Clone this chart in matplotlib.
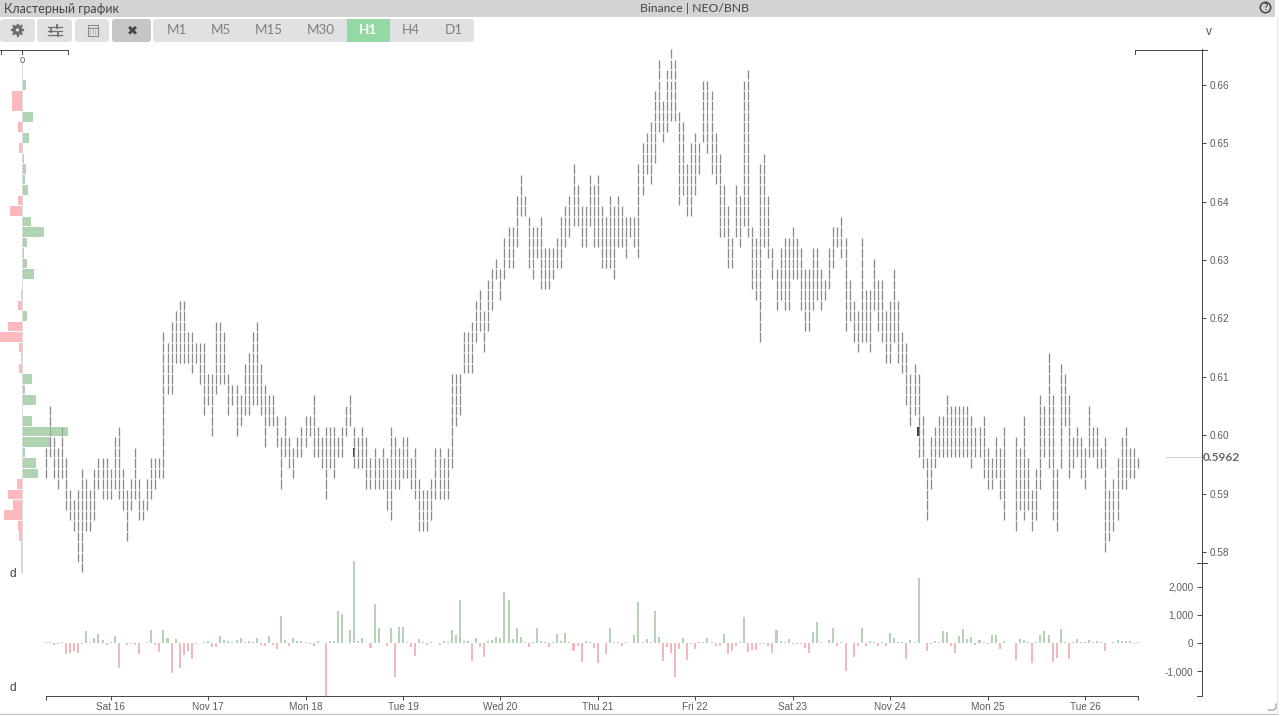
# -*- coding: utf-8 -*-
import numpy as np
import matplotlib
matplotlib.use("Agg")
import matplotlib.pyplot as plt
from matplotlib.patches import Rectangle, FancyBboxPatch, Circle

nan = float("nan")

# --------- data (price levels counted from the lowest cluster row) ---------
price_base = 0.5764
price_step = 0.001797
last_price = 0.5962

bar_low = [
    9, 11, 9, 8, 9, 6, 5, 4, 1, 0,
    4, 4, 5, 8, 7, 7, 7, 8, 7, 6,
    3, 6, 7, 5, 5, 6, 7, 8, 9, 9,
    17, 17, 20, 20, 20, 20, 19, 20, 18, 15,
    16, 13, 17, 18, 18, 15, 16, 13, 14, 15,
    15, 16, 16, 15, 12, 14, 14, 12, 8, 11,
    10, 9, 11, 11, 12, 13, 11, 11, 10, 7,
    10, 9, 11, 11, 13, 14, 10, 10, 10, 8,
    8, 8, 8, 8, 6, 5, 8, 8, 9, 9,
    8, 7, 4, 4, 4, 5, 7, 7, 7, 7,
    10, 14, 15, 19, 19, 19, 22, 23, 21, 23,
    25, 28, 26, 28, 29, 29, 31, 34, 34, 29,
    28, 30, 27, 27, 27, 28, 29, 29, 31, 32,
    33, 33, 31, 31, 33, 31, 31, 29, 29, 29,
    28, 31, 31, 30, 32, 31, 30, 36, 38, 37,
    39, 42, 41, 42, 43, 43, 35, 36, 34, 34,
    36, 38, 41, 40, 38, 37, 32, 32, 29, 29,
    32, 31, 33, 32, 27, 26, 22, 31, 30, 28,
    25, 26, 25, 25, 28, 28, 25, 23, 23, 25,
    26, 25, 26, 27, 29, 31, 30, 23, 24, 22,
    21, 22, 22, 21, 25, 23, 22, 20, 20, 22,
    20, 19, 16, 14, 15, 11, 10, 5, 8, 10,
    11, 11, 11, 11, 11, 11, 11, 11, 10, 11,
    11, 9, 8, 8, 9, 7, 5, nan, nan, 4,
    6, 5, 6, 4, 5, 8, 11, 10, 5, 4,
    10, 14, 9, 10, 11, 9, 8, 11, 11, 10,
    10, 2, 3, 4, 5, 8, 8, 9, 9, 10,
]
bar_high = [
    12, 16, 13, 12, 14, 11, 8, 7, 8, 10,
    9, 8, 10, 11, 11, 11, 10, 13, 14, 10,
    8, 9, 12, 9, 7, 9, 11, 11, 11, 23,
    22, 24, 25, 26, 26, 23, 23, 22, 22, 22,
    19, 19, 24, 24, 23, 19, 18, 18, 17, 20,
    21, 23, 24, 20, 18, 17, 17, 15, 13, 15,
    13, 12, 13, 14, 15, 15, 17, 14, 13, 14,
    14, 14, 13, 14, 16, 17, 14, 13, 14, 13,
    11, 12, 11, 12, 11, 14, 13, 12, 13, 13,
    11, 12, 9, 8, 8, 9, 12, 12, 11, 12,
    19, 19, 19, 23, 23, 24, 26, 27, 25, 28,
    29, 30, 29, 32, 33, 33, 36, 38, 36, 34,
    33, 33, 34, 31, 31, 31, 32, 34, 35, 36,
    39, 37, 35, 35, 38, 37, 38, 35, 34, 36,
    35, 36, 35, 34, 34, 34, 39, 41, 42, 43,
    46, 49, 45, 48, 50, 49, 44, 43, 39, 41,
    42, 41, 47, 47, 46, 42, 40, 37, 35, 32,
    37, 36, 47, 48, 33, 32, 39, 40, 36, 31,
    29, 31, 32, 32, 33, 32, 31, 29, 29, 31,
    31, 29, 28, 31, 33, 33, 34, 32, 28, 26,
    25, 32, 27, 27, 30, 28, 28, 25, 26, 29,
    26, 23, 22, 19, 20, 19, 15, 11, 13, 14,
    15, 15, 17, 16, 16, 16, 16, 16, 15, 14,
    14, 15, 12, 11, 13, 12, 14, nan, nan, 13,
    12, 15, 11, 8, 10, 17, 16, 21, 17, 10,
    20, 19, 17, 13, 14, 13, 12, 16, 14, 14,
    12, 13, 8, 9, 11, 13, 14, 12, 12, 11,
]
# heaviest clusters, drawn dark
heavy_bars = [76, 215]
heavy_levels = [11, 13]

delta = [
    20, 40, -60, -30, 50, -390, -355, -290, -340, -20,
    430, 20, 170, 330, 120, -60, 20, 240, -880, 10,
    -60, -40, -80, -400, 10, 40, 460, -60, -310, 470,
    190, -1050, 150, -870, -420, -300, -550, -30, 10, 20,
    60, -140, -130, 240, 90, 70, 50, 100, 160, 20,
    60, 30, 170, -70, -120, 240, -60, -220, 950, 90,
    -120, 170, 70, 60, 50, -40, -100, 60, 10, -1880,
    60, 70, 1120, 1030, 10, 470, 2900, 80, 170, 10,
    -170, 1370, 540, 10, -120, 540, -1190, 570, 570, 20,
    -130, -450, 130, 30, -60, 20, 15, -60, 80, 50,
    450, 280, 1540, 70, 70, -640, 170, -130, -510, 70,
    120, 210, 170, 1810, 1530, 150, 530, 220, 30, -150,
    20, 530, 60, 40, -140, 50, 320, 70, 370, 30,
    -300, -100, -680, 70, 30, -190, -700, -10, -380, 520,
    40, 20, -100, 20, 15, 280, 1470, 20, 150, 20,
    1120, 200, -650, -150, -340, -1210, -200, 190, -600, -40,
    -220, 30, 40, 170, 40, -100, -120, 320, -380, -290,
    -100, 30, 920, -320, -260, -250, -20, -40, -100, -340,
    450, 60, 50, 130, -40, -20, -40, -190, -340, 380,
    760, 30, 10, 100, 530, -120, 20, -980, 10, -500,
    -100, 520, -120, 80, 40, -120, 30, -100, 370, 180,
    40, 30, -550, 90, 30, 2290, 10, -280, -20, 60,
    40, 440, 380, -100, -370, 240, 500, 130, 210, -70,
    120, 50, -20, 300, 300, -200, 70, nan, nan, -610,
    150, 100, 40, -700, 50, 280, 440, 290, -680, -520,
    510, 50, -550, 30, 130, 30, 20, 100, 20, 70,
    40, -290, -10, 50, 100, 70, 60, 70, -20, 20,
]

# volume profile: level 46 down to level 0
profile_levels = list(range(46, -1, -1))
profile_values = [
    4, -10, -10, 11, -4, 7, -3, 2, 4, 3,
    6, -4, -12, 9, 22, 5.5, 2, 5.5, 12, 0.3,
    -0.5, -3.5, 5, -13.5, -22, -2.5, -1, -3, 10, 3.5,
    14, 1, 10, 46, 28, 3.5, 14, 16.5, -5, -13.5,
    -8.5, -18, -3.5, -2.5, -0.5, -0.5, -0.5,
]

date_ticks = [16, 40, 64, 88, 112, 136, 160, 184, 208, 232, 256]
date_labels = ["Sat 16", "Nov 17", "Mon 18", "Tue 19", "Wed 20", "Thu 21",
               "Fri 22", "Sat 23", "Nov 24", "Mon 25", "Tue 26"]
price_ticks = [0.58, 0.59, 0.60, 0.61, 0.62, 0.63, 0.64, 0.65, 0.66]
delta_ticks = [-1000, 0, 1000, 2000]
timeframes = ["M1", "M5", "M15", "M30", "H1", "H4", "D1"]
timeframe_x = [176.5, 220.5, 269, 321, 368.5, 411, 453.5]

# --------- layout helpers (pixel positions of the widget) ---------
W, H = 1280, 716
PX = 72.0 / 100.0  # one pixel in points at dpi 100
AXIS = "#4a4a4a"
LABEL = "#5c5c5c"
UI_FONT = ["Lato", "Open Sans", "DejaVu Sans"]
CHART_FONT = ["Liberation Sans", "DejaVu Sans"]

def px_axes(fig, left, top, right, bottom, **kw):
    return fig.add_axes([left / W, 1 - bottom / H, (right - left) / W, (bottom - top) / H], **kw)

def level_price(lvl):
    return price_base + np.asarray(lvl, dtype=float) * price_step

def idx_lim():
    # bar i sits at pixel 45.7 + 4.06 * i
    return (22 - 45.7) / 4.06, (1202 - 45.7) / 4.06

def price_lim():
    return 0.58 + (552 - 563) / 5837.5, 0.58 + (552 - 49) / 5837.5

# --------- panels ---------
def draw_price(fig):
    ax = px_axes(fig, 22, 49, 1202, 563, facecolor="none")
    ax.set_xlim(*idx_lim())
    ax.set_ylim(*price_lim())
    gap = price_step * 0.05
    xs, y0, y1 = [], [], []
    for i, (lo, hi) in enumerate(zip(bar_low, bar_high)):
        if np.isnan(lo):
            continue
        for lvl in range(int(lo), int(hi)):
            xs.append(i)
            y0.append(level_price(lvl) + gap)
            y1.append(level_price(lvl + 1) - gap)
    # the lowest bars run a little past the panel edge
    ax.vlines(xs, y0, y1, color="#8a8a8a", linewidth=1.3 * PX, clip_on=False)
    for i, lvl in zip(heavy_bars, heavy_levels):
        ax.bar(i, price_step * 0.9, width=0.55, bottom=level_price(lvl) + gap, color="#3c3c3c")

    # last price marker
    ax.plot([(1166 - 45.7) / 4.06, idx_lim()[1]], [last_price, last_price], color="#cfcfcf", lw=1.0 * PX)
    ax.text(1.001, last_price, f"{last_price:.4f}", transform=ax.get_yaxis_transform(),
            ha="left", va="center", fontsize=8.6, fontweight="bold", color="#666666",
            family=UI_FONT)

    for s in ["top", "left", "bottom"]:
        ax.spines[s].set_visible(False)
    ax.spines["right"].set_color(AXIS)
    ax.spines["right"].set_linewidth(1.0 * PX)
    ax.set_xticks([])
    ax.yaxis.tick_right()
    ax.set_yticks(price_ticks, [f"{p:.2f}" for p in price_ticks])
    ax.tick_params(axis="y", length=3, width=1.0 * PX, color=AXIS, pad=2.2,
                   labelsize=7.2, labelcolor=LABEL)
    for t in ax.get_yticklabels():
        t.set_family(CHART_FONT)
    return ax

def draw_profile(fig):
    ax = px_axes(fig, 0, 49, 68, 563, facecolor="none")
    ax.set_xlim(-21.7, 46.3)
    ax.set_ylim(*price_lim())
    ax.plot([0, 0], [level_price(0), price_lim()[1] - 0.002], color="#dcdcdc", lw=1.0 * PX, clip_on=False)
    colors = ["#8fc391" if v >= 0 else "#ff9a9e" for v in profile_values]
    ax.barh(level_price(profile_levels) + price_step / 2, profile_values,
            height=price_step * 0.92, color=colors, alpha=0.7, linewidth=0, clip_on=False)
    ax.axis("off")

def draw_delta(fig):
    ax = px_axes(fig, 22, 563, 1202, 696, facecolor="none")
    ax.set_xlim(*idx_lim())
    ax.set_ylim(-1879, 2837)
    values = np.array(delta, dtype=float)
    xs = np.arange(len(values))
    colors = ["#b4d2b4" if v >= 0 else "#efb9bd" for v in np.nan_to_num(values)]
    ax.bar(xs, values, width=0.5, color=colors, linewidth=0, clip_on=False)

    for s in ["top", "right"]:
        ax.spines[s].set_visible(False)
    ax.spines["bottom"].set_bounds(0, 269)
    ax.spines["left"].set_position(("axes", 1.0))
    for s in ["bottom", "left"]:
        ax.spines[s].set_color(AXIS)
        ax.spines[s].set_linewidth(1.0 * PX)
    ax.set_xticks([0] + date_ticks + [269], [""] + date_labels + [""])
    ax.set_yticks(delta_ticks, [f"{v:,}" for v in delta_ticks])
    ax.tick_params(axis="x", length=3, width=1.0 * PX, color=AXIS, pad=1.2,
                   labelsize=7.2, labelcolor=LABEL)
    ax.tick_params(axis="y", length=3.6, width=1.0 * PX, color=AXIS, pad=2.5,
                   labelsize=7.2, labelcolor=LABEL)
    for t in ax.get_xticklabels() + ax.get_yticklabels():
        t.set_family(CHART_FONT)

# --------- window chrome ---------
def button(ax, x0, x1, color):
    ax.add_patch(FancyBboxPatch((x0 + 2, 21), x1 - x0 - 4, 19, boxstyle="round,pad=2,rounding_size=3",
                                fc=color, ec="none"))

def draw_chrome(fig):
    ax = px_axes(fig, 0, 0, W, H, facecolor="none", zorder=5)
    ax.set_xlim(0, W)
    ax.set_ylim(H, 0)
    ax.axis("off")
    icon = "#6f6f6f"

    ax.add_patch(Rectangle((0, 0), 1275, 17, fc="#d3d3d3", ec="none"))
    ax.text(4, 9, "Кластерный график", fontsize=9.0, color="#444444", va="center", family=UI_FONT)
    ax.text(695, 9, "Binance | NEO/BNB", fontsize=8.8, color="#444444", va="center", ha="center", family=UI_FONT)
    ax.add_patch(Circle((1265.5, 7.5), 5.2, fc="none", ec="#444444", lw=1.1))
    ax.text(1265.5, 7.8, "?", fontsize=6.8, fontweight="bold", color="#444444", ha="center", va="center", family=UI_FONT)

    button(ax, 0, 35, "#e0e1e2")
    button(ax, 37, 72, "#e0e1e2")
    button(ax, 75, 109, "#e0e1e2")
    button(ax, 112, 151, "#c4c5c6")
    button(ax, 153, 474, "#e0e1e2")
    ax.add_patch(Rectangle((347, 19), 43, 23, fc="#92d9a5", ec="none"))

    # gear
    ax.add_patch(Circle((17.5, 30), 3.6, fc="none", ec=icon, lw=2.0))
    ax.plot([17.5, 17.5], [24.5, 35.5], color=icon, lw=1.6, zorder=1)
    ax.plot([12, 23], [30, 30], color=icon, lw=1.6, zorder=1)
    ax.plot([13.6, 21.4], [26.1, 33.9], color=icon, lw=1.6, zorder=1)
    ax.plot([13.6, 21.4], [33.9, 26.1], color=icon, lw=1.6, zorder=1)
    ax.add_patch(Circle((17.5, 30), 1.6, fc="#e0e1e2", ec="none", zorder=3))
    # sliders
    for y, knob in [(26.5, 57), (30.5, 51), (34.5, 58)]:
        ax.plot([48, 62], [y, y], color=icon, lw=0.9)
        ax.plot([knob, knob], [y - 1.4, y + 1.4], color=icon, lw=1.3)
    # calendar
    ax.add_patch(Rectangle((87.5, 25), 10, 11, fc="none", ec="#8a8a8a", lw=0.8))
    ax.plot([87.5, 97.5], [28, 28], color="#8a8a8a", lw=0.8)
    for x in [90, 92.5, 95]:
        ax.plot([x, x], [30, 34], color="#a0a0a0", lw=0.8, ls=(0, (1, 1)))
    ax.text(132, 30.5, "\u2716", fontsize=9.5, color="#444444", ha="center", va="center", family="DejaVu Sans")
    for name, x in zip(timeframes, timeframe_x):
        on = name == "H1"
        ax.text(x, 30.5, name, fontsize=9.6, color="white" if on else "#7d7d7d", ha="center", va="center",
                family=UI_FONT, fontweight="bold" if on else "normal")

    # axis brackets and labels
    lw = 1.0 * PX
    ax.plot([0, 68], [49.5, 49.5], color=AXIS, lw=lw)
    for x in [0.5, 22, 68]:
        ax.plot([x, x], [49.5, 53.5], color=AXIS, lw=lw)
    ax.text(22, 60.5, "0", fontsize=6.8, color=LABEL, ha="center", va="center", family=CHART_FONT)
    ax.plot([1135, 1207], [49.5, 49.5], color=AXIS, lw=lw)
    ax.plot([1135, 1135], [49.5, 54], color=AXIS, lw=lw)
    ax.plot([1197, 1207], [563, 563], color=AXIS, lw=lw)
    ax.plot([1197, 1202], [696, 696], color=AXIS, lw=lw)
    ax.text(1209, 32, "v", fontsize=8.6, color="#555555", ha="center", va="center", family=CHART_FONT)
    ax.text(13, 574, "d", fontsize=8.6, color="#444444", ha="center", va="center", family=CHART_FONT)
    ax.text(13, 688, "d", fontsize=8.6, color="#444444", ha="center", va="center", family=CHART_FONT)

    # window edge and resize handle
    ax.plot([1277, 1277], [17, 714], color="#e4e4e4", lw=lw)
    ax.plot([0, 1277], [714, 714], color="#c8c8c8", lw=1.4 * PX)
    ax.plot([1268, 1274, 1276, 1276], [710, 710, 708, 704], color="#888888", lw=lw)

def main():
    fig = plt.figure(figsize=(W / 100, H / 100), dpi=100, facecolor="white")
    draw_price(fig)
    draw_delta(fig)
    draw_profile(fig)
    draw_chrome(fig)
    fig.savefig("out.png", dpi=100)
    plt.close(fig)

if __name__ == "__main__":
    main()
